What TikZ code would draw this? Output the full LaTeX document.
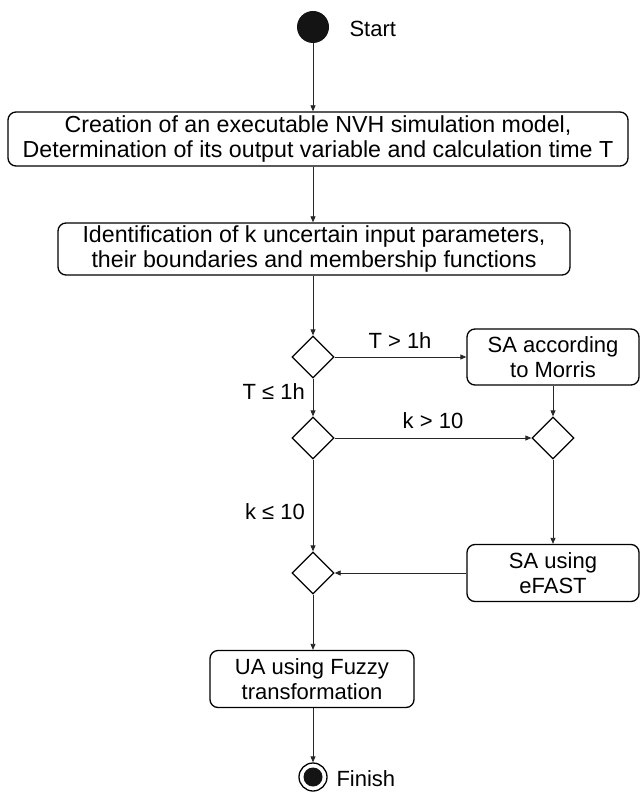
\documentclass[tikz,border=0pt]{standalone}
\usepackage{fontspec}
\setmainfont{Liberation Sans}
\usetikzlibrary{shapes.geometric,arrows.meta}
\begin{document}
\begin{tikzpicture}[x=1pt,y=-1pt,
  every node/.style={font=\fontsize{22}{25}\selectfont},
  procbox/.style={draw=black,line width=1.3pt,rounded corners=8pt,align=center,inner sep=0pt},
  bigtext/.style={font=\fontsize{23.2}{25}\selectfont},
  decision/.style={draw=black,line width=1.3pt,diamond,minimum width=42pt,minimum height=42pt,inner sep=0pt},
  flow/.style={draw=black!85,line width=0.8pt,-{Triangle[length=6pt,width=5pt]}},
  lbl/.style={inner sep=1pt}]
\useasboundingbox (0,0) rectangle (641,794);
\node[circle,fill=black!92,minimum size=32pt,inner sep=0pt] (start) at (313,27) {};
\node[anchor=west] (startlbl) at (346,29) {Start};
\node[procbox,bigtext,minimum width=620pt,minimum height=54pt] (b1) at (318,139)
  {Creation of an executable NVH simulation model,\\Determination of its output variable and calculation time T};
\node[procbox,bigtext,minimum width=512pt,minimum height=52pt] (b2) at (314,249)
  {Identification of k uncertain input parameters,\\their boundaries and membership functions};
\node[decision] (d1) at (313,357) {};
\node[procbox,minimum width=172pt,minimum height=56pt] (b3) at (553,357) {SA according\\to Morris};
\node[decision] (d2) at (313,438) {};
\node[decision] (d3) at (553,438) {};
\node[procbox,minimum width=172pt,minimum height=57pt] (b4) at (553,573) {SA using\\eFAST};
\node[decision] (d4) at (313,573) {};
\node[procbox,minimum width=204pt,minimum height=57pt] (b5) at (312,679) {UA using Fuzzy\\transformation};
\node[circle,draw=black,line width=1.3pt,minimum size=28pt,inner sep=0pt] (fin) at (313,777) {};
\node[circle,fill=black!92,minimum size=19pt,inner sep=0pt] (finin) at (fin.center) {};
\node[anchor=west] (finlbl) at (333,779) {Finish};
\draw[flow] (start) -- (start |- b1.north);
\draw[flow] (b1.south -| start) -- (b2.north -| start);
\draw[flow] (b2.south -| d1) -- (d1.north);
\draw[flow] (d1.east) -- (b3.west);
\node[lbl] (l1) at (400,341) {T > 1h};
\draw[flow] (d1.south) -- (d2.north);
\node[lbl,anchor=east] (l2) at (306,392) {T ≤ 1h};
\draw[flow] (b3) -- (d3);
\draw[flow] (d2.east) -- (d3.west);
\node[lbl] (l3) at (433,421) {k > 10};
\draw[flow] (d2.south) -- (d4.north);
\node[lbl,anchor=east] (l4) at (306,512) {k ≤ 10};
\draw[flow] (d3.south) -- (b4.north);
\draw[flow] (b4.west) -- (d4.east);
\draw[flow] (d4.south) -- (b5.north -| d4);
\draw[flow] (b5.south -| fin) -- (fin.north);
\end{tikzpicture}
\end{document}
